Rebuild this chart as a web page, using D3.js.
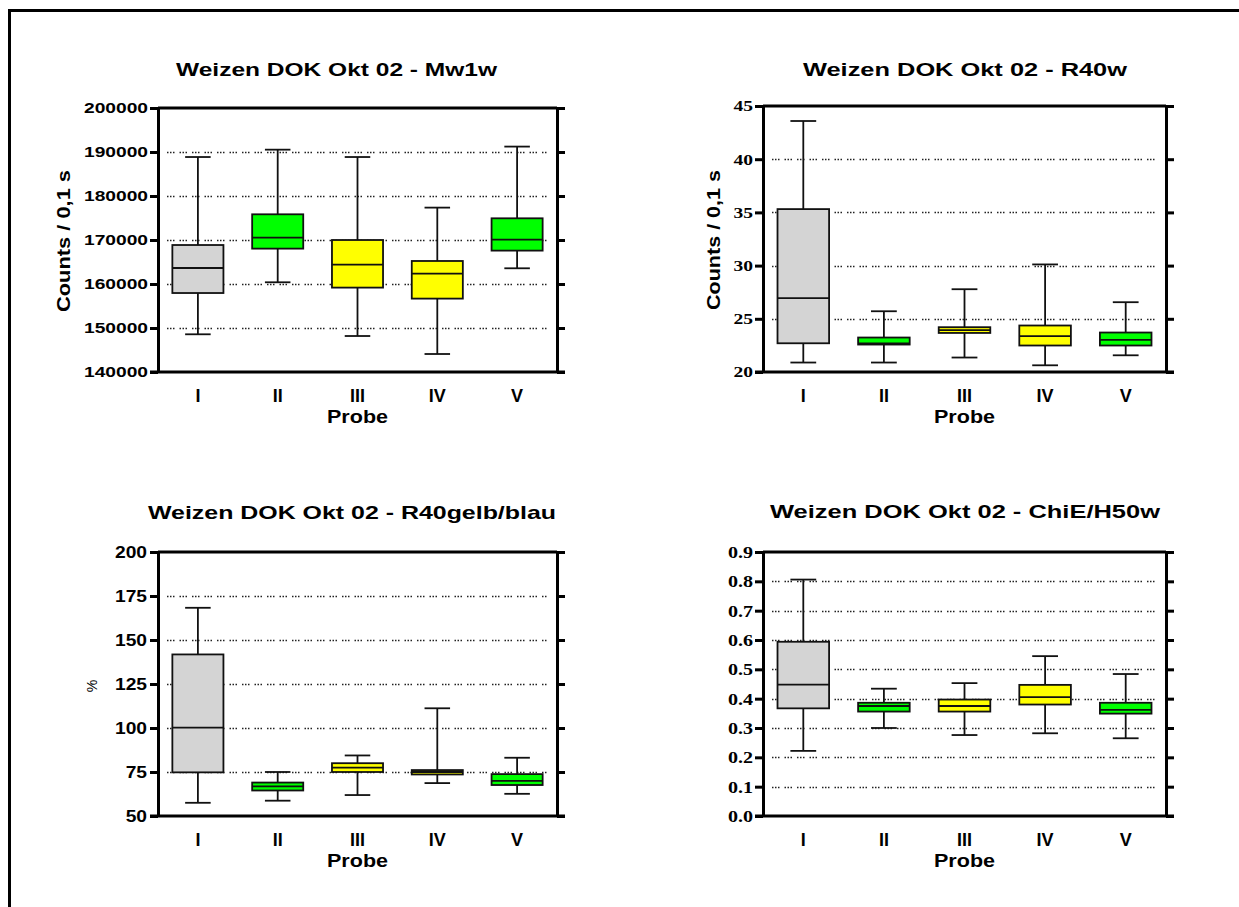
<!DOCTYPE html>
<html>
<head>
<meta charset="utf-8">
<script src="https://cdn.jsdelivr.net/npm/d3@7"></script>
<style>
  html, body { margin: 0; padding: 0; background: #fff; }
  svg { display: block; }
</style>
</head>
<body>
<svg id="chart" width="1239" height="907"></svg>
<script>
// Sample groups on the x axis
const categories = ["I", "II", "III", "IV", "V"];
const groupKind = ["ref", "green", "yellow", "yellow", "green"];

// Mw1w — counts per 0.1 s (min, Q1, median, Q3, max)
const mw1wMin = [148570, 160390, 148180, 144090, 163570];
const mw1wQ1  = [157950, 168040, 159180, 156680, 167590];
const mw1wMed = [163640, 170530, 164410, 162360, 170090];
const mw1wQ3  = [168860, 175840, 170000, 165230, 174930];
const mw1wMax = [188860, 190530, 188860, 177360, 191230];
const mw1wTicks = [140000, 150000, 160000, 170000, 180000, 190000, 200000];

// R40w — counts per 0.1 s
const r40wMin = [20.89, 20.89, 21.36, 20.63, 21.57];
const r40wQ1  = [22.70, 22.58, 23.67, 22.49, 22.49];
const r40wMed = [26.94, 22.68, 23.93, 23.37, 23.02];
const r40wQ3  = [35.31, 23.24, 24.21, 24.37, 23.71];
const r40wMax = [43.59, 25.71, 27.78, 30.11, 26.56];
const r40wTicks = [20, 25, 30, 35, 40, 45];

// R40gelb/blau — percent
const gbMin = [57.5, 58.7, 61.9, 68.7, 62.6];
const gbQ1  = [74.8, 64.5, 75.0, 73.6, 67.6];
const gbMed = [100.2, 66.8, 77.5, 75.0, 70.0];
const gbQ3  = [141.8, 69.0, 80.0, 76.1, 73.8];
const gbMax = [168.3, 75.0, 84.4, 111.2, 83.1];
const gbTicks = [50, 75, 100, 125, 150, 175, 200];

// ChiE/H50w — ratio
const chiMin = [0.222, 0.300, 0.276, 0.282, 0.265];
const chiQ1  = [0.367, 0.356, 0.356, 0.380, 0.349];
const chiMed = [0.448, 0.375, 0.375, 0.405, 0.362];
const chiQ3  = [0.594, 0.386, 0.397, 0.447, 0.386];
const chiMax = [0.806, 0.434, 0.453, 0.545, 0.484];
const chiTicks = [0.0, 0.1, 0.2, 0.3, 0.4, 0.5, 0.6, 0.7, 0.8, 0.9];

const titles = [
  "Weizen DOK Okt 02 - Mw1w",
  "Weizen DOK Okt 02 - R40w",
  "Weizen DOK Okt 02 - R40gelb/blau",
  "Weizen DOK Okt 02 - ChiE/H50w"
];
const xTitle = "Probe";

const fills = { ref: "#d4d4d4", green: "#00ff00", yellow: "#ffff00" };
const SANS = "'Liberation Sans', Arial, sans-serif";
const SERIF = "'Liberation Serif', 'Times New Roman', serif";

const panels = [
  { title: titles[0], min: mw1wMin, q1: mw1wQ1, med: mw1wMed, q3: mw1wQ3, max: mw1wMax,
    ticks: mw1wTicks, fmt: d3.format("d"),
    x0: 158, x1: 557, y0: 108, y1: 372,
    tickFont: SANS, tickSize: 14, tickStretch: 1.37, tickPad: 2,
    titleX: 336.5, titleY: 76, titleLen: 321,
    yTitle: "Counts / 0,1 s", yTitleX: 64, yTitleY: 241, yTitleLen: 142, yTitleBold: true },
  { title: titles[1], min: r40wMin, q1: r40wQ1, med: r40wMed, q3: r40wQ3, max: r40wMax,
    ticks: r40wTicks, fmt: d3.format("d"),
    x0: 763, x1: 1166, y0: 106, y1: 372,
    tickFont: SERIF, tickSize: 15, tickStretch: 1.3, tickPad: 2,
    titleX: 965, titleY: 76, titleLen: 324,
    yTitle: "Counts / 0,1 s", yTitleX: 714, yTitleY: 240, yTitleLen: 140, yTitleBold: true },
  { title: titles[2], min: gbMin, q1: gbQ1, med: gbMed, q3: gbQ3, max: gbMax,
    ticks: gbTicks, fmt: d3.format("d"),
    x0: 158, x1: 557, y0: 552, y1: 816,
    tickFont: SANS, tickSize: 16, tickStretch: 1.2, tickPad: 3,
    titleX: 352, titleY: 519, titleLen: 408,
    yTitle: "%", yTitleX: 92, yTitleY: 686, yTitleLen: null, yTitleBold: false },
  { title: titles[3], min: chiMin, q1: chiQ1, med: chiMed, q3: chiQ3, max: chiMax,
    ticks: chiTicks, fmt: d3.format(".1f"),
    x0: 763, x1: 1166, y0: 552, y1: 816,
    tickFont: SERIF, tickSize: 17, tickStretch: 1.18, tickPad: 2,
    titleX: 965, titleY: 518, titleLen: 390,
    yTitle: null }
];

const svg = d3.select("#chart");

// Outer frame (top and left edges)
svg.append("line").attr("x1", 8).attr("x2", 1239).attr("y1", 10.5).attr("y2", 10.5)
  .attr("stroke", "#000").attr("stroke-width", 3);
svg.append("line").attr("x1", 9.5).attr("x2", 9.5).attr("y1", 9).attr("y2", 907)
  .attr("stroke", "#000").attr("stroke-width", 3);

function stretchText(sel, factor) {
  sel.each(function () {
    const w = this.getComputedTextLength();
    d3.select(this).attr("textLength", w * factor).attr("lengthAdjust", "spacingAndGlyphs");
  });
}

panels.forEach(p => {
  const g = svg.append("g");
  const x = d3.scaleBand().domain(categories).range([p.x0, p.x1])
    .paddingInner(0.36).paddingOuter(0.18);
  const y = d3.scaleLinear().domain([p.ticks[0], p.ticks[p.ticks.length - 1]]).range([p.y1, p.y0]);

  // dotted grid at the interior ticks
  g.append("g").selectAll("line")
    .data(p.ticks.slice(1, -1))
    .join("line")
    .attr("x1", p.x0 + 9).attr("x2", p.x1 - 9)
    .attr("y1", d => Math.round(y(d)) + 0.5).attr("y2", d => Math.round(y(d)) + 0.5)
    .attr("stroke", "#222").attr("stroke-width", 1.5)
    .attr("stroke-dasharray", "1.5,1.5,1.5,1.5,1.5,5");

  // box plots
  const bw = x.bandwidth();
  const capW = bw * 0.5;
  const boxes = g.append("g").selectAll("g")
    .data(categories.map((c, i) => ({
      c, kind: groupKind[i], min: p.min[i], q1: p.q1[i], med: p.med[i], q3: p.q3[i], max: p.max[i]
    })))
    .join("g");
  const cx = d => x(d.c) + bw / 2;
  const stroke = "#111";
  const sw = 1.8;
  boxes.append("line").attr("x1", cx).attr("x2", cx)
    .attr("y1", d => y(d.max)).attr("y2", d => y(d.q3))
    .attr("stroke", stroke).attr("stroke-width", sw);
  boxes.append("line").attr("x1", cx).attr("x2", cx)
    .attr("y1", d => y(d.q1)).attr("y2", d => y(d.min))
    .attr("stroke", stroke).attr("stroke-width", sw);
  boxes.append("line").attr("x1", d => cx(d) - capW / 2).attr("x2", d => cx(d) + capW / 2)
    .attr("y1", d => y(d.max)).attr("y2", d => y(d.max))
    .attr("stroke", stroke).attr("stroke-width", sw);
  boxes.append("line").attr("x1", d => cx(d) - capW / 2).attr("x2", d => cx(d) + capW / 2)
    .attr("y1", d => y(d.min)).attr("y2", d => y(d.min))
    .attr("stroke", stroke).attr("stroke-width", sw);
  boxes.append("rect")
    .attr("x", d => x(d.c)).attr("width", bw)
    .attr("y", d => y(d.q3)).attr("height", d => Math.max(0, y(d.q1) - y(d.q3)))
    .attr("fill", d => fills[d.kind])
    .attr("stroke", stroke).attr("stroke-width", sw);
  boxes.append("line").attr("x1", d => x(d.c)).attr("x2", d => x(d.c) + bw)
    .attr("y1", d => y(d.med)).attr("y2", d => y(d.med))
    .attr("stroke", stroke).attr("stroke-width", sw);

  // left axis with outward ticks
  const left = g.append("g").attr("transform", `translate(${p.x0},0)`)
    .call(d3.axisLeft(y).tickValues(p.ticks).tickFormat(p.fmt).tickSize(8).tickSizeOuter(0).tickPadding(p.tickPad));
  left.select(".domain").attr("stroke", "#000").attr("stroke-width", 3);
  left.selectAll(".tick line").attr("stroke", "#000").attr("stroke-width", 3);
  left.selectAll(".tick text")
    .attr("fill", "#000")
    .style("font-family", p.tickFont).style("font-weight", "bold")
    .style("font-size", p.tickSize + "px")
    .call(stretchText, p.tickStretch);

  // right axis mirror ticks
  const right = g.append("g").attr("transform", `translate(${p.x1},0)`)
    .call(d3.axisRight(y).tickValues(p.ticks).tickFormat("").tickSize(8).tickSizeOuter(0));
  right.select(".domain").attr("stroke", "#000").attr("stroke-width", 3);
  right.selectAll(".tick line").attr("stroke", "#000").attr("stroke-width", 3);

  // top edge
  g.append("line").attr("x1", p.x0).attr("x2", p.x1).attr("y1", p.y0).attr("y2", p.y0)
    .attr("stroke", "#000").attr("stroke-width", 3);

  // bottom axis with category labels
  const bottom = g.append("g").attr("transform", `translate(0,${p.y1})`)
    .call(d3.axisBottom(x).tickSize(0).tickSizeOuter(0).tickPadding(17));
  bottom.select(".domain").remove();
  bottom.selectAll(".tick text")
    .attr("fill", "#000")
    .style("font-family", SANS).style("font-weight", "bold").style("font-size", "18px");
  g.append("line").attr("x1", p.x0 - 8).attr("x2", p.x1 + 8).attr("y1", p.y1).attr("y2", p.y1)
    .attr("stroke", "#000").attr("stroke-width", 3);

  // x title
  g.append("text")
    .attr("x", (p.x0 + p.x1) / 2).attr("y", p.y1 + 51)
    .attr("text-anchor", "middle")
    .style("font-family", SANS).style("font-weight", "bold").style("font-size", "18px")
    .attr("textLength", 61).attr("lengthAdjust", "spacingAndGlyphs")
    .text(xTitle);

  // panel title
  g.append("text")
    .attr("x", p.titleX).attr("y", p.titleY)
    .attr("text-anchor", "middle")
    .style("font-family", SANS).style("font-weight", "bold").style("font-size", "19px")
    .attr("textLength", p.titleLen).attr("lengthAdjust", "spacingAndGlyphs")
    .text(p.title);

  // y title
  if (p.yTitle) {
    const t = g.append("text")
      .attr("transform", `translate(${p.yTitleX},${p.yTitleY}) rotate(-90)`)
      .attr("text-anchor", "middle").attr("dy", "0.35em")
      .style("font-family", SANS)
      .style("font-weight", p.yTitleBold ? "bold" : "normal")
      .style("font-size", p.yTitleBold ? "18px" : "14px")
      .text(p.yTitle);
    if (p.yTitleLen) t.attr("textLength", p.yTitleLen).attr("lengthAdjust", "spacingAndGlyphs");
  }
});
</script>
</body>
</html>
